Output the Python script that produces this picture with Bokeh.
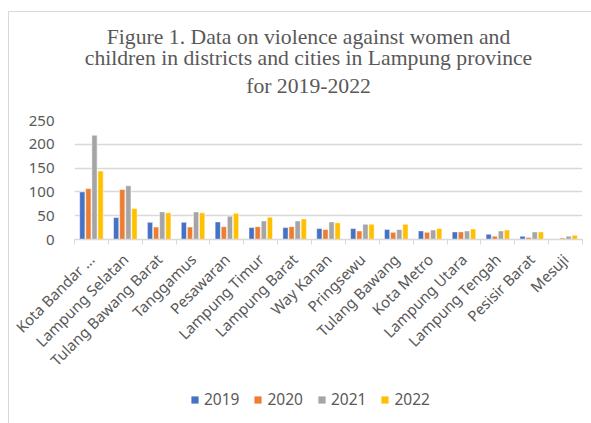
import numpy as np
from bokeh.plotting import figure
from bokeh.layouts import column
from bokeh.models import (ColumnDataSource, FixedTicker, Legend, LegendItem, Label, Range1d)
from bokeh.embed import file_html
from bokeh.resources import INLINE

categories = ["Kota Bandar ...", "Lampung Selatan", "Tulang Bawang Barat", "Tanggamus",
              "Pesawaran", "Lampung Timur", "Lampung Barat", "Way Kanan", "Pringsewu",
              "Tulang Bawang", "Kota Metro", "Lampung Utara", "Lampung Tengah",
              "Pesisir Barat", "Mesuji"]
years = ["2019", "2020", "2021", "2022"]
v2019 = [100, 46, 36, 36, 37, 25, 25, 23, 23, 21, 18, 16, 11, 7, 0]
v2020 = [107, 105, 26, 26, 27, 27, 27, 21, 18, 15, 15, 16, 7, 4, 3]
v2021 = [219, 113, 58, 58, 49, 39, 39, 37, 32, 21, 20, 18, 18, 16, 7]
v2022 = [144, 65, 56, 56, 55, 47, 43, 35, 32, 32, 23, 22, 20, 16, 9]
series = [v2019, v2020, v2021, v2022]
colors = ["#4472C4", "#ED7D31", "#A5A5A5", "#FFC000"]
y_ticks = [0, 50, 100, 150, 200, 250]
title_lines = ["Figure 1. Data on violence against women and",
               "children in districts and cities in Lampung province",
               "for 2019-2022"]

n = len(categories)
idx = np.arange(n)
GREY = "#595959"
LIGHT = "#D9D9D9"
W = 583
LEFT, RIGHT = 65, 10   # frame borders shared by all stacked figures


def blank(h):
    # frames of stacked figures are aligned with the chart frame, so use pixel ranges
    f = figure(width=W, height=h, output_backend="svg", toolbar_location=None,
               x_range=Range1d(0, W - LEFT - RIGHT), y_range=Range1d(0, h),
               min_border_left=LEFT, min_border_right=RIGHT, min_border_top=0,
               min_border_bottom=0, outline_line_color=None,
               x_axis_location=None, y_axis_location=None)
    f.grid.visible = False
    return f


# ---- title panel
HT = 95
t = blank(HT)
for line, ytop in zip(title_lines, [24, 45, 73]):
    t.add_layout(Label(x=299 - LEFT, y=HT - ytop, text=line, text_align="center",
                       text_baseline="middle", text_font="Liberation Serif",
                       text_font_size="21.7px", text_color=GREY))

# ---- main chart
p = figure(width=W, height=273, output_backend="svg", toolbar_location=None,
           x_range=Range1d(0, n), y_range=Range1d(0, 250),
           min_border_left=LEFT, min_border_right=RIGHT, min_border_top=13,
           min_border_bottom=141, outline_line_color=None)

offsets = [-0.27, -0.09, 0.09, 0.27]
for vals, off, col in zip(series, offsets, colors):
    src = ColumnDataSource(dict(x=idx + 0.5 + off, top=vals))
    p.vbar(x="x", top="top", width=0.155, source=src, fill_color=col,
           line_color="white", line_width=0.5)

p.yaxis.ticker = FixedTicker(ticks=y_ticks)
p.yaxis.axis_line_color = None
p.yaxis.major_tick_line_color = None
p.yaxis.minor_tick_line_color = None
p.yaxis.major_label_standoff = 14
p.yaxis.major_label_text_font = "Noto Sans"
p.yaxis.major_label_text_font_size = "15px"
p.yaxis.major_label_text_color = GREY
p.ygrid.grid_line_color = LIGHT
p.ygrid.grid_line_width = 1.5

p.xaxis.ticker = FixedTicker(ticks=list(idx + 0.5), minor_ticks=list(range(n + 1)))
p.xaxis.major_label_overrides = {float(i + 0.5): c for i, c in enumerate(categories)}
p.xaxis.major_label_orientation = np.pi / 4
p.xaxis.major_tick_line_color = None
p.xaxis.minor_tick_line_color = LIGHT
p.xaxis.minor_tick_out = 5
p.xaxis.minor_tick_in = 0
p.xaxis.axis_line_color = LIGHT
p.xaxis.axis_line_width = 1.5
p.xaxis.major_label_standoff = 11
p.xaxis.major_label_text_font = "Noto Sans"
p.xaxis.major_label_text_font_size = "15px"
p.xaxis.major_label_text_color = GREY
p.xgrid.grid_line_color = None

# ---- legend panel
HL = 43
g = blank(HL)
items = []
for yr, col in zip(years, colors):
    # zero-height stand-in bar, only to carry the legend swatch
    r = g.vbar(x="x", top="top", source=ColumnDataSource(dict(x=[0], top=[0])),
               width=1, fill_color=col, line_color=None)
    items.append(LegendItem(label=yr, renderers=[r]))
legend = Legend(items=items, orientation="horizontal", location=(181 - LEFT, 13),
                glyph_width=9, glyph_height=9, label_standoff=5, spacing=14,
                padding=0, margin=0, border_line_color=None, background_fill_alpha=0,
                label_text_font="Noto Sans", label_text_font_size="15.5px",
                label_text_color=GREY, label_height=18)
g.add_layout(legend, "center")

layout = column(t, p, g, spacing=0)
layout.margin = (11, 0, 0, 8)
layout.styles = {"border-top": "1px solid #D9D9D9", "border-left": "1px solid #D9D9D9"}

open("out.html", "w").write(file_html(layout, INLINE))
